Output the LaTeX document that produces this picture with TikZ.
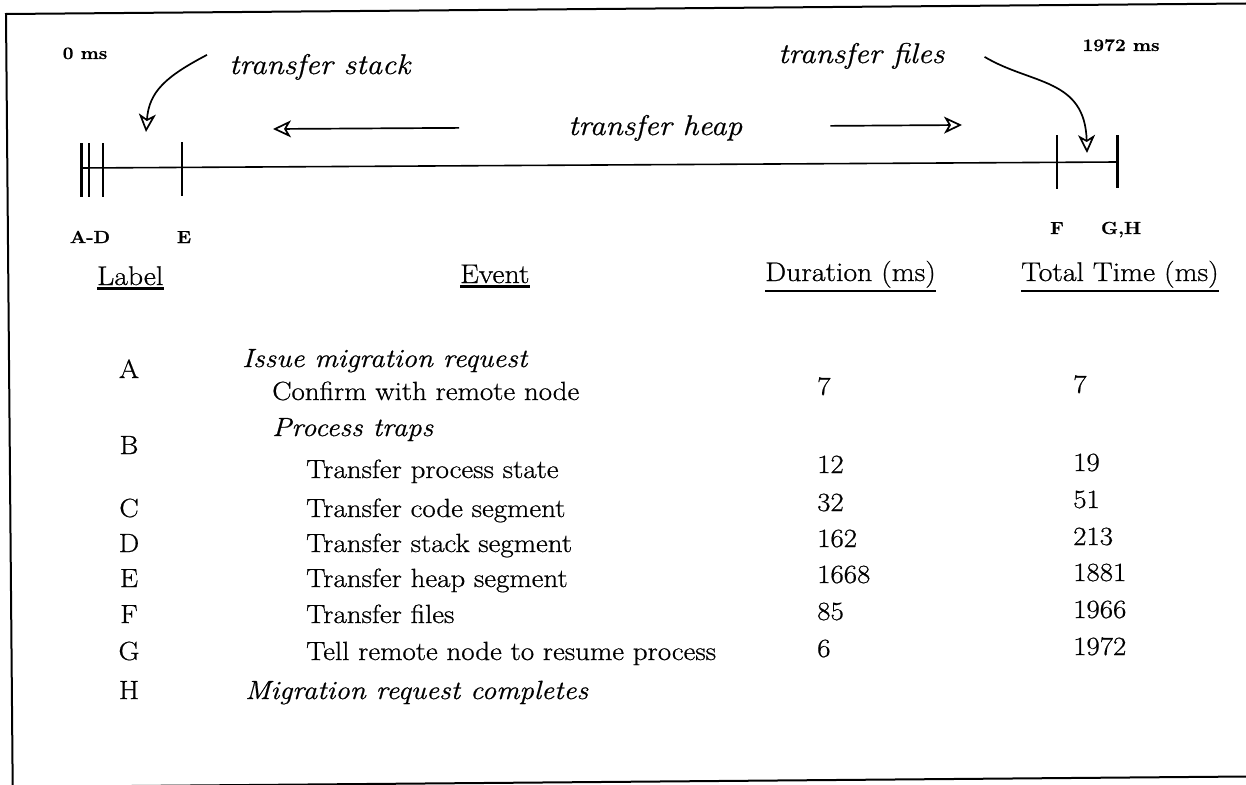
\documentclass[tikz,border=0pt]{standalone}
\usepackage{fontspec}
\setmainfont{Latin Modern Roman}[FakeStretch=1.1, FakeBold=0.7]
\usetikzlibrary{arrows.meta, positioning}

\begin{document}
\begin{tikzpicture}[x=1pt, y=-1pt,
            cell/.style={inner sep=0pt, anchor=base west, font=\fontsize{26.3}{30}\selectfont},
            lab/.style={cell, anchor=base},
            head/.style={inner sep=0pt, anchor=base west, font=\fontsize{27}{32}\selectfont},
            note/.style={inner sep=0pt, anchor=base west, font=\fontsize{28.5}{32}\selectfont\itshape},
            tag/.style={inner sep=0pt, anchor=base, font=\fontsize{17.5}{20}\selectfont\bfseries},
            uline/.style={line width=2.4pt},
            arr/.style={-{Stealth[open, length=18pt, width=17pt, inset=5pt]}, line width=1.7pt}]
            \useasboundingbox (0,0) rectangle (1246,784);
            % frame of the scan
            \draw[line width=2pt] (1246,3.5) -- (6,14) -- (12.7,787);
            \draw[line width=2pt] (12.7,787) -- (1246,776.5);

            % time line
            \coordinate (t0) at (81,168);
            \coordinate (t1) at (1117,162);
            \draw[line width=1.6pt] (t0) -- (t1);
            \draw[line width=3pt] (81,143) -- (81,197);
            \draw[line width=1.6pt] (89,143) -- (89,197);
            \draw[line width=1.6pt] (103,143) -- (103,197);
            \draw[line width=1.6pt] (182,142) -- (182,196);
            \draw[line width=1.6pt] (1057,135) -- (1057,189);
            \draw[line width=3pt] (1117,135) -- (1117,188);

            \node[tag] (ms0) at (85,59) {0 ms};
            \node[tag] (ms1972) at (1121,51) {1972 ms};
            \node[tag] (tad) at (90,243) {A-D};
            \node[tag] (te) at (184,243) {E};
            \node[tag] (tf) at (1057,234) {F};
            \node[tag] (tgh) at (1121,234) {G,H};

            \node[note] (stack) at (229,74) {transfer stack};
            \node[note] (heap) at (568,135) {transfer heap};
            \node[note] (files) at (778,63) {transfer files};

            \coordinate (stackto) at (146,132);
            \coordinate (heapl) at (273,129);
            \coordinate (heapr) at (962,125);
            \coordinate (filesto) at (1087,153);
            \draw[arr] ([shift={(-22,-12)}]stack.west) .. controls +(-42,22) and +(3,-40) .. (stackto);
            \draw[arr] ([xshift=-109pt]heap.west) -- (heapl);
            \draw[arr] ([xshift=88pt, yshift=2pt]heap.east) -- (heapr);
            \draw[arr] ([shift={(40,1)}]files.east) .. controls +(47,28) and +(-2,-75) .. (filesto);

            % table
            \node[head] (hlabel) at (97,285) {Label};
            \node[head] (hevent) at (460,283) {Event};
            \node[head] (hdur) at (765,281) {Duration (ms)};
            \node[head] (htot) at (1021,281) {Total Time (ms)};
            \draw[uline] ([yshift=-3pt]hlabel.south west) -- ([yshift=-3pt]hlabel.south east);
            \draw[uline] ([yshift=-3pt]hevent.south west) -- ([yshift=-3pt]hevent.south east);
            \draw[uline] ([yshift=-3pt]hdur.south west) -- ([yshift=-3pt]hdur.south east);
            \draw[uline] ([yshift=-3pt]htot.south west) -- ([yshift=-3pt]htot.south east);

            \node[lab] (la) at (129,378) {A};
            \node[lab] (lb) at (129,454) {B};
            \node[lab] (lc) at (129,517) {C};
            \node[lab] (ld) at (129,552) {D};
            \node[lab] (le) at (129,587) {E};
            \node[lab] (lf) at (129,623) {F};
            \node[lab] (lg) at (129,660) {G};
            \node[lab] (lh) at (129,699) {H};

            \node[cell] (eissue) at (242,367) {\itshape Issue migration request};
            \node[cell] (econf) at (272,400) {Confirm with remote node};
            \node[cell] (etraps) at (272,436) {\itshape Process traps};
            \node[cell] (estate) at (306,478) {Transfer process state};
            \node[cell] (ecode) at (306,517) {Transfer code segment};
            \node[cell] (estack) at (306,552) {Transfer stack segment};
            \node[cell] (eheap) at (306,587) {Transfer heap segment};
            \node[cell] (efiles) at (306,623) {Transfer files};
            \node[cell] (etell) at (306,660) {Tell remote node to resume process};
            \node[cell] (edone) at (245,699) {\itshape Migration request completes};

            \node[cell] (dconf) at (817,395) {7};
            \node[cell] (dstate) at (817,473) {12};
            \node[cell] (dcode) at (817,511) {32};
            \node[cell] (dstack) at (817,547) {162};
            \node[cell] (dheap) at (817,583) {1668};
            \node[cell] (dfiles) at (817,620) {85};
            \node[cell] (dtell) at (817,657) {6};

            \node[cell] (sconf) at (1073,393) {7};
            \node[cell] (sstate) at (1073,471) {19};
            \node[cell] (scode) at (1073,508) {51};
            \node[cell] (sstack) at (1073,545) {213};
            \node[cell] (sheap) at (1073,581) {1881};
            \node[cell] (sfiles) at (1073,618) {1966};
            \node[cell] (stell) at (1073,655) {1972};
        \end{tikzpicture}
\end{document}
